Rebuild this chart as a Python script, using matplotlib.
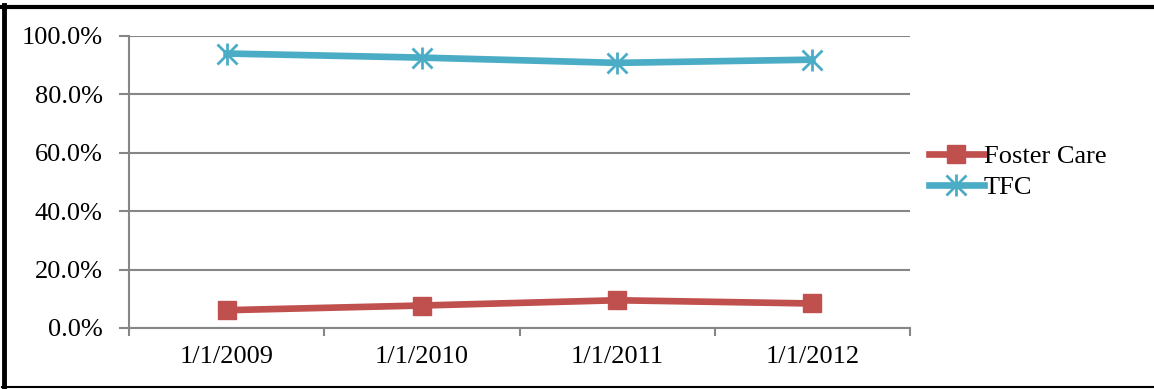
import matplotlib
matplotlib.use("Agg")
import matplotlib.pyplot as plt
from matplotlib.lines import Line2D

# data
dates = ["1/1/2009", "1/1/2010", "1/1/2011", "1/1/2012"]
foster_care = [6.1, 7.7, 9.5, 8.4]
tfc = [94.0, 92.6, 90.8, 91.9]
y_ticks = [0, 20, 40, 60, 80, 100]

plt.rcParams["font.family"] = ["Liberation Serif", "DejaVu Serif"]
FS = 19

W, H = 1154, 389
fig = plt.figure(figsize=(W / 100, H / 100), dpi=100)
ax = fig.add_axes([129 / W, 1 - 328 / H, (910 - 129) / W, (328 - 36) / H])

xs = [i + 0.5 for i in range(len(dates))]
ax.plot(xs, foster_care, color="#c0504d", lw=4.8, marker="s", ms=13,
        label="Foster Care", solid_joinstyle="round")
ax.plot(xs, tfc, color="#4bacc6", lw=4.8, marker="x", ms=14, mew=2,
        label="TFC", solid_joinstyle="round")
# asterisk: add vertical bar over the x marker
ax.plot(xs, tfc, ls="none", color="#4bacc6", marker="|", ms=16, mew=2)

ax.set_xlim(0, len(dates))
ax.set_ylim(0, 100)
ax.set_yticks(y_ticks)
ax.set_yticklabels([f"{v:.1f}%" for v in y_ticks], fontsize=FS)
ax.set_xticks(range(len(dates) + 1))
ax.set_xticklabels([])
ax.set_xticks(xs, minor=True)
ax.set_xticklabels(dates, minor=True, fontsize=FS)
ax.tick_params(axis="x", which="minor", length=0, pad=13)
ax.tick_params(axis="x", which="major", length=6, color="#868686", width=1.5)
ax.tick_params(axis="y", length=7, color="#868686", width=1.5, pad=12)

ax.grid(axis="y", color="#868686", lw=1.5)
ax.set_axisbelow(True)
for side in ["top", "right"]:
    ax.spines[side].set_visible(False)
for side in ["left", "bottom"]:
    ax.spines[side].set_color("#868686")
    ax.spines[side].set_linewidth(1.5)

fc_handle = Line2D([], [], color="#c0504d", lw=4.8, marker="s", ms=13)
tfc_x = Line2D([], [], color="#4bacc6", lw=4.8, marker="x", ms=14, mew=2)
tfc_bar = Line2D([], [], ls="none", color="#4bacc6", marker="|", ms=16, mew=2)
fig.legend([fc_handle, (tfc_x, tfc_bar)], ["Foster Care", "TFC"],
           loc="center left", bbox_to_anchor=(918 / W, 1 - 172 / H),
           frameon=False, fontsize=FS, handlelength=2.1, handletextpad=0.0,
           labelspacing=0.3, borderaxespad=0)

# outer frame
fig.add_artist(Line2D([3.5 / W, 3.5 / W], [0, 1 - 5 / H], color="black",
                      lw=3.5, transform=fig.transFigure))
fig.add_artist(Line2D([2 / W, 1], [1 - 7 / H, 1 - 7 / H], color="black",
                      lw=3, transform=fig.transFigure))
fig.add_artist(Line2D([2 / W, 1], [2 / H, 2 / H], color="black",
                      lw=1.5, transform=fig.transFigure))

fig.savefig("out.png", dpi=100)
